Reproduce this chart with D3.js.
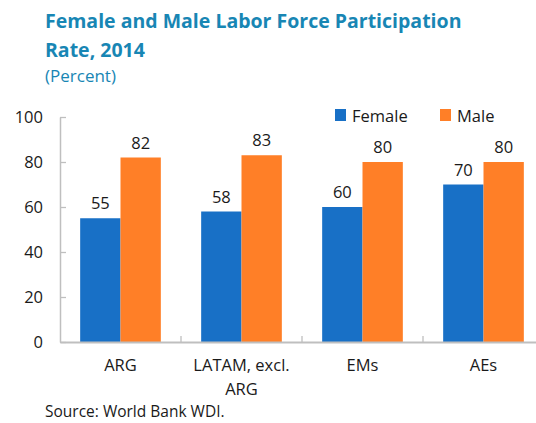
<!DOCTYPE html>
<html>
<head>
<meta charset="utf-8">
<script src="https://cdn.jsdelivr.net/npm/d3@7"></script>
<style>
  html, body { margin: 0; padding: 0; background: #fff; }
  svg { display: block; font-family: "Segoe UI", "Open Sans", "Noto Sans", sans-serif; }
</style>
</head>
<body>
<svg id="chart" width="536" height="423"></svg>
<script>
// Labor force participation rate, 2014 (percent)
const categories = ["ARG", "LATAM, excl.|ARG", "EMs", "AEs"];
const series = ["Female", "Male"];
const female = [55, 58, 60, 70];
const male = [82, 83, 80, 80];
const yTicks = [0, 20, 40, 60, 80, 100];
const colors = { Female: "#1870c6", Male: "#ff7f27" };

const svg = d3.select("#chart");
const plotLeft = 60, plotRight = 544, plotTop = 117, plotBottom = 342;

const x0 = d3.scaleBand().domain(categories).range([plotLeft, plotRight]).padding(0);
const x1 = d3.scaleBand().domain(series).range([0, x0.bandwidth()]).paddingInner(0).paddingOuter(0.5);
const y = d3.scaleLinear().domain([0, 100]).range([plotBottom, plotTop]);

const rows = categories.map((c, i) => ({ cat: c, Female: female[i], Male: male[i] }));

// Title block
const titleColor = "#1886b4";
svg.append("text").attr("x", 45).attr("y", 28)
  .attr("fill", titleColor).attr("font-weight", 700).attr("font-size", 19.5)
  .text("Female and Male Labor Force Participation");
svg.append("text").attr("x", 45).attr("y", 57)
  .attr("fill", titleColor).attr("font-weight", 700).attr("font-size", 19.5)
  .text("Rate, 2014");
svg.append("text").attr("x", 45).attr("y", 82)
  .attr("fill", titleColor).attr("font-size", 17)
  .text("(Percent)");

// Bars
const groups = svg.append("g").selectAll("g").data(rows).join("g")
  .attr("transform", d => `translate(${x0(d.cat)},0)`);
groups.selectAll("rect").data(d => series.map(s => ({ s, v: d[s] }))).join("rect")
  .attr("x", d => x1(d.s))
  .attr("y", d => y(d.v))
  .attr("width", x1.bandwidth())
  .attr("height", d => y(0) - y(d.v))
  .attr("fill", d => colors[d.s]);

// Value labels
groups.selectAll("text.val").data(d => series.map(s => ({ s, v: d[s] }))).join("text")
  .attr("class", "val")
  .attr("x", d => x1(d.s) + x1.bandwidth() / 2)
  .attr("y", d => y(d.v) - 9)
  .attr("text-anchor", "middle")
  .attr("font-size", 16.5)
  .attr("fill", "#1a1a1a")
  .text(d => d.v);

// Y axis with inward ticks
const yAxis = svg.append("g").attr("transform", `translate(${plotLeft},0)`)
  .call(d3.axisLeft(y).tickValues(yTicks).tickSizeInner(-6).tickSizeOuter(0).tickPadding(17));
yAxis.select(".domain").attr("stroke", "#bfbfbf").attr("stroke-width", 1.5);
yAxis.selectAll(".tick line").attr("stroke", "#bfbfbf").attr("stroke-width", 1.3);
yAxis.selectAll(".tick text").attr("font-size", 16.5).attr("fill", "#1a1a1a");
yAxis.attr("font-family", null).attr("font-size", null);

// X axis
const xAxis = svg.append("g").attr("transform", `translate(0,${plotBottom})`)
  .call(d3.axisBottom(x0).tickSize(0).tickPadding(0).tickFormat(() => ""));
xAxis.select(".domain").attr("stroke", "#bfbfbf").attr("stroke-width", 2);
xAxis.selectAll(".tick text").remove();

// Category separators between groups
svg.append("g").selectAll("line").data(categories.slice(0, -1)).join("line")
  .attr("x1", d => x0(d) + x0.bandwidth()).attr("x2", d => x0(d) + x0.bandwidth())
  .attr("y1", plotBottom).attr("y2", plotBottom - 6)
  .attr("stroke", "#bfbfbf").attr("stroke-width", 1.3);

// Category labels (multi-line split on "|")
const catLabels = svg.append("g").selectAll("text").data(categories).join("text")
  .attr("x", d => x0(d) + x0.bandwidth() / 2)
  .attr("y", 371)
  .attr("text-anchor", "middle")
  .attr("font-size", 16.5)
  .attr("fill", "#1a1a1a");
catLabels.selectAll("tspan").data(d => d.split("|")).join("tspan")
  .attr("x", function () { return d3.select(this.parentNode).attr("x"); })
  .attr("dy", (d, i) => i === 0 ? 0 : 24)
  .text(d => d);

// Legend
const legend = svg.append("g").selectAll("g").data(series).join("g")
  .attr("transform", (d, i) => `translate(${[335, 440][i]},109)`);
legend.append("rect").attr("width", 11).attr("height", 12).attr("fill", d => colors[d]);
legend.append("text").attr("x", 17).attr("y", 13)
  .attr("font-size", 16.5).attr("fill", "#1a1a1a").text(d => d);

// Source note
svg.append("text").attr("x", 45).attr("y", 417)
  .attr("font-size", 15.5).attr("fill", "#1a1a1a")
  .text("Source: World Bank WDI.");
</script>
</body>
</html>
